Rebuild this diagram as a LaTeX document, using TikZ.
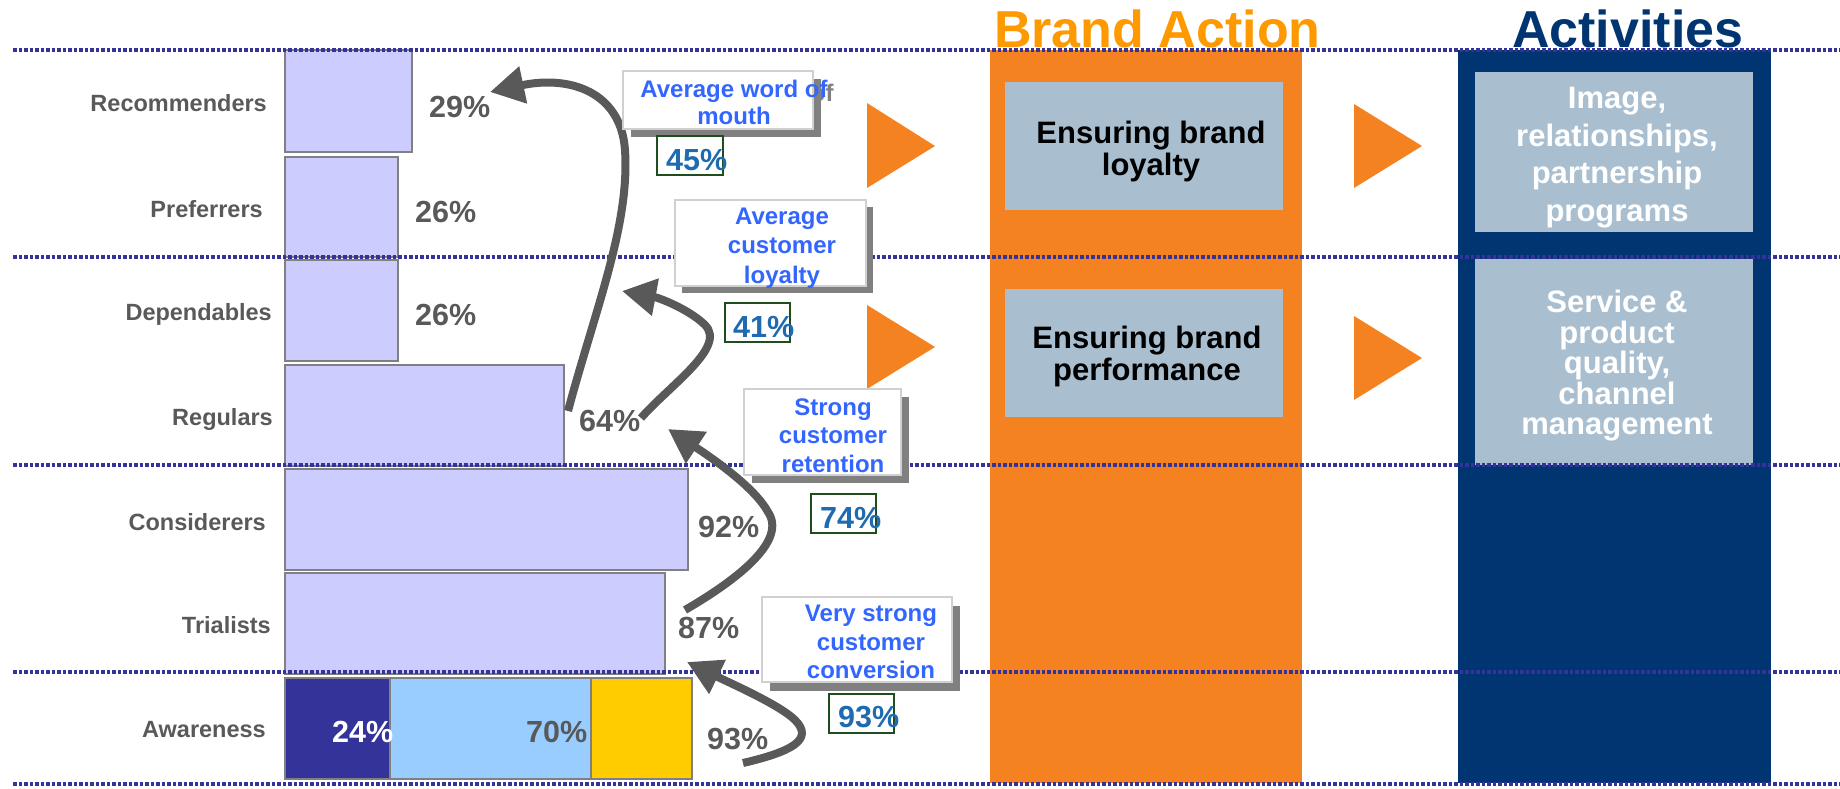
\documentclass[tikz,border=0pt]{standalone}
\usepackage{fontspec}
\setmainfont{Liberation Sans}
\usetikzlibrary{arrows.meta}
\definecolor{lblgray}{HTML}{595959}
\definecolor{barfill}{HTML}{CCCCFF}
\definecolor{bardraw}{HTML}{808080}
\definecolor{segdark}{HTML}{333399}
\definecolor{seglight}{HTML}{99CCFF}
\definecolor{segyellow}{HTML}{FFCC00}
\definecolor{dotcol}{HTML}{333399}
\definecolor{arrowgray}{HTML}{595959}
\definecolor{callblue}{HTML}{3366FF}
\definecolor{callborder}{HTML}{D0D0D0}
\definecolor{shadowgray}{HTML}{808080}
\definecolor{pctblue}{HTML}{1F6BB0}
\definecolor{pctborder}{HTML}{1E4D1E}
\definecolor{orangecol}{HTML}{F58220}
\definecolor{orangetitle}{HTML}{FF9900}
\definecolor{navy}{HTML}{013571}
\definecolor{steel}{HTML}{A9BFD0}
\begin{document}
\begin{tikzpicture}[x=1pt,y=-1pt,
  rect/.style={inner sep=0pt, outer sep=0pt, anchor=north west},
  bar/.style={rect, draw=bardraw, line width=1.5pt, fill=barfill},
  rowlbl/.style={anchor=base east, inner sep=0pt, text=lblgray, font=\fontsize{23.5}{28}\selectfont\bfseries},
  pct/.style={anchor=base west, inner sep=0pt, text=lblgray, font=\fontsize{30.5}{36}\selectfont\bfseries},
  mtext/.style={align=center, inner sep=0pt, anchor=north, execute at begin node={\rule{0pt}{25pt}}},
  ctext/.style={mtext, text=callblue, font=\fontsize{24}{#1}\selectfont\bfseries},
  shadowrect/.style={rect, fill=shadowgray},
  callbox/.style={rect, fill=white, draw=callborder, line width=1.5pt},
  pctbox/.style={rect, draw=pctborder, line width=1.2pt},
  pcttext/.style={anchor=base west, inner sep=0pt, text=pctblue, font=\fontsize{30.5}{36}\selectfont\bfseries},
  dotline/.style={draw=dotcol, line width=3.5pt, dash pattern=on 3.5pt off 2pt},
  garrow/.style={draw=arrowgray, line width=8pt, -{Triangle[length=34pt,width=36pt]}},
  boxtext/.style={mtext, font=\fontsize{31}{#1}\selectfont\bfseries},
  title/.style={anchor=base west, inner sep=0pt, font=\fontsize{52}{60}\selectfont\bfseries}
]
\useasboundingbox (0,0) rectangle (1840,788);

% columns
\node[rect, fill=orangecol, minimum width=312, minimum height=733] (brandcol) at (990,50) {};
\node[rect, fill=navy, minimum width=313, minimum height=733] (actcol) at (1458,50) {};
\node[rect, fill=steel, minimum width=278, minimum height=128] (loyalbox) at (1005,82) {};
\node[rect, fill=steel, minimum width=278, minimum height=128] (perfbox) at (1005,289) {};
\node[rect, fill=steel, minimum width=278, minimum height=160] (imgbox) at (1475,72) {};
\node[rect, fill=steel, minimum width=278, minimum height=206] (servbox) at (1475,259) {};
\node[boxtext=31.5] (loyaltxt) at (1151,121) {Ensuring brand\\loyalty};
\node[boxtext=31.5] (perftxt) at (1147,326) {Ensuring brand\\performance};
\node[boxtext=37.7, text=white] (imgtxt) at (1617,87) {Image,\\relationships,\\partnership\\programs};
\node[boxtext=30.5, text=white] (servtxt) at (1617,290) {Service \&\\product\\quality,\\channel\\management};

% titles
\node[title, text=orangetitle] (brandtitle) at (994,47) {Brand Action};
\node[title, text=navy] (acttitle) at (1512,47) {Activities};

% triangles
\fill[orangecol] (867,103) -- (935,146) -- (867,188) -- cycle;
\fill[orangecol] (867,305) -- (935,347) -- (867,389) -- cycle;
\fill[orangecol] (1354,104) -- (1422,146) -- (1354,188) -- cycle;
\fill[orangecol] (1354,316) -- (1422,358) -- (1354,400) -- cycle;

% bars
\node[bar, minimum width=127, minimum height=102] (recbar) at (285,50) {};
\node[bar, minimum width=113, minimum height=100] (prefbar) at (285,157) {};
\node[bar, minimum width=113, minimum height=101] (depbar) at (285,260) {};
\node[bar, minimum width=279, minimum height=101] (regbar) at (285,365) {};
\node[bar, minimum width=403, minimum height=101] (conbar) at (285,469) {};
\node[bar, minimum width=380, minimum height=101] (tribar) at (285,573) {};
\node[bar, fill=segdark, minimum width=105, minimum height=101] (awdark) at (285,678) {};
\node[bar, fill=seglight, minimum width=201, minimum height=101] (awlight) at (390,678) {};
\node[bar, fill=segyellow, minimum width=101, minimum height=101] (awyellow) at (591,678) {};

% row labels
\node[rowlbl] (lrec) at (267,111) {Recommenders};
\node[rowlbl] (lpref) at (263,217) {Preferrers};
\node[rowlbl] (ldep) at (272,320) {Dependables};
\node[rowlbl] (lreg) at (273,425) {Regulars};
\node[rowlbl] (lcon) at (266,530) {Considerers};
\node[rowlbl] (ltri) at (271,633) {Trialists};
\node[rowlbl] (law) at (266,737) {Awareness};

% percentages
\node[pct] (p29) at (429,117) {29\%};
\node[pct] (p26a) at (415,222) {26\%};
\node[pct] (p26b) at (415,325) {26\%};
\node[pct] (p64) at (579,431) {64\%};
\node[pct] (p92) at (698,537) {92\%};
\node[pct] (p87) at (678,638) {87\%};
\node[pct] (p93) at (707,749) {93\%};
\node[pct, text=white] (p24) at (332,742) {24\%};
\node[pct] (p70) at (526,742) {70\%};

% dotted lines
\foreach \yy in {50,257,465,672,784} {
  \draw[dotline] (13,\yy) -- (1840,\yy);
}

% arrows
\coordinate (t1) at (568,411);
\coordinate (m1) at (625,150);
\coordinate (h1) at (490,92);
\draw[garrow] (t1) .. controls (595,310) and (630,225) .. (m1) .. controls (621,92) and (570,75) .. (h1);
\coordinate (t2) at (641,418);
\coordinate (m2) at (705,325);
\coordinate (h2) at (622,291);
\draw[garrow] (t2) .. controls (670,385) and (727,347) .. (m2) .. controls (690,310) and (660,298) .. (h2);
\coordinate (t3) at (685,610);
\coordinate (m3) at (768,512);
\coordinate (h3) at (668,429);
\draw[garrow] (t3) .. controls (740,578) and (787,540) .. (m3) .. controls (755,488) and (715,460) .. (h3);
\coordinate (t4) at (743,763);
\coordinate (m4) at (795,720);
\coordinate (h4) at (687,662);
\draw[garrow] (t4) .. controls (790,752) and (815,740) .. (m4) .. controls (780,705) and (730,683) .. (h4);

% callouts
\node[ctext=27, text=shadowgray] (c1ghost) at (740,83.5) {Average word of\\mouth};
\node[shadowrect, minimum width=190, minimum height=58] (c1s) at (631,79) {};
\node[callbox, minimum width=190, minimum height=58] (c1) at (623,71) {};
\node[ctext=27] (c1t) at (734,79.5) {Average word of\\mouth};

\node[shadowrect, minimum width=191, minimum height=86] (c2s) at (682,207) {};
\node[callbox, minimum width=191, minimum height=86] (c2) at (675,200) {};
\node[ctext=29.5] (c2t) at (782,207.5) {Average\\customer\\loyalty};

\node[shadowrect, minimum width=157, minimum height=86] (c3s) at (752,397) {};
\node[callbox, minimum width=157, minimum height=86] (c3) at (744,389) {};
\node[ctext=28.5] (c3t) at (833,398.5) {Strong\\customer\\retention};

\node[shadowrect, minimum width=190, minimum height=85] (c4s) at (770,606) {};
\node[callbox, minimum width=190, minimum height=85] (c4) at (762,597) {};
\node[ctext=28.5] (c4t) at (871,605) {Very strong\\customer\\conversion};

% percent boxes
\node[pctbox, minimum width=66, minimum height=39] (b45) at (657,136) {};
\node[pcttext] (t45) at (666,170) {45\%};
\node[pctbox, minimum width=65, minimum height=39] (b41) at (725,303) {};
\node[pcttext] (t41) at (733,337) {41\%};
\node[pctbox, minimum width=65, minimum height=39] (b74) at (811,494) {};
\node[pcttext] (t74) at (820,528) {74\%};
\node[pctbox, minimum width=65, minimum height=39] (b93) at (829,694) {};
\node[pcttext] (t93) at (838,727) {93\%};
\end{tikzpicture}
\end{document}
